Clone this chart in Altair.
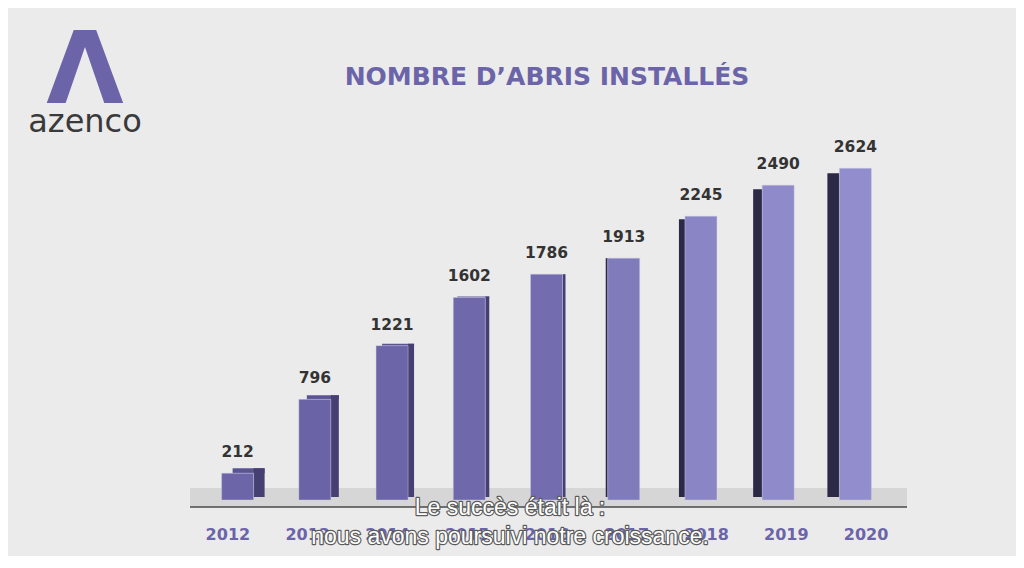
import altair as alt
import pandas as pd

# ---- data ----
years = ["2012", "2013", "2014", "2015", "2016", "2017", "2018", "2019", "2020"]
values = [212, 796, 1221, 1602, 1786, 1913, 2245, 2490, 2624]
title_text = "NOMBRE D\u2019ABRIS INSTALLÉS"
brand_text = "azenco"
logo_glyph = "\u039b"
subtitle_lines = ["Le succès était là :", "nous avons poursuivi notre croissance."]

# ---- styles ----
W, H = 695, 354
front_colors = ["#6c66a8", "#6a64a6", "#6c66a8", "#6f69ab", "#736db0",
                "#807bbb", "#8a85c4", "#8f8aca", "#928dcc"]
# (side width px, side on right?, vertical shift of side top px)
side_style = [(11, True, -5), (8, True, -4), (6, True, -2), (4, True, -1), (3, True, 0),
              (2, False, 0), (6, False, 3), (9, False, 4), (12, False, 5)]
BAR_W = 32

df = pd.DataFrame({"year": years, "value": values})

xs = alt.X("year:O", scale=alt.Scale(domain=years, paddingInner=0, paddingOuter=0), axis=None)
ys = alt.Y("value:Q", scale=alt.Scale(domain=[0, 2800], nice=False), axis=None)
base = alt.Chart(df)

one = pd.DataFrame({"k": [0]})

floor = alt.Chart(one).mark_rect(color="#d6d6d6").encode(
    x=alt.value(-9), x2=alt.value(W + 13), y=alt.value(H - 12), y2=alt.value(H + 7)
)
floor_line = alt.Chart(one).mark_rule(color="#4a4a4a", strokeWidth=1.5).encode(
    x=alt.value(-9), x2=alt.value(W + 13), y=alt.value(H + 7)
)

layers = [floor, floor_line]

for i, yr in enumerate(years):
    w, right, shift = side_style[i]
    sign = 1 if right else -1
    sub = base.transform_filter(alt.datum.year == yr)
    if shift < 0:
        top = sub.mark_bar(width=BAR_W, xOffset=sign * w, yOffset=shift, color="#5a5495").encode(
            x=xs, y=ys, y2=alt.Y2("value:Q")
        )
        layers.append(top)
    side = sub.mark_bar(
        width=w, xOffset=sign * (BAR_W / 2 + w / 2), yOffset=shift, y2Offset=-3,
        color="#463f72" if right else "#2b2945",
    ).encode(x=xs, y=ys, y2=alt.datum(0))
    layers.append(side)

front = base.mark_bar(width=BAR_W, stroke="#cfcce6", strokeWidth=0.6, strokeOpacity=0.7).encode(
    x=xs, y=ys, y2=alt.datum(0),
    color=alt.Color("year:N", scale=alt.Scale(domain=years, range=front_colors), legend=None),
)
layers.append(front)

labels = base.mark_text(font="DejaVu Sans", fontWeight="bold", fontSize=15.5, color="#333333",
                        baseline="alphabetic", dy=-16).encode(x=xs, y=ys, text="value:Q")
layers.append(labels)

year_labels = base.mark_text(font="DejaVu Sans", fontWeight="bold", fontSize=16, color="#6b64a8",
                             baseline="alphabetic").encode(
    x=alt.X("year:O", scale=alt.Scale(domain=years, range=[-11, 707], paddingInner=0, paddingOuter=0),
            axis=None),
    y=alt.value(H + 40),
    text="year:N",
)

title = alt.Chart(pd.DataFrame({"t": [title_text]})).mark_text(
    font="DejaVu Sans", fontWeight="bold", fontSize=25, color="#6b64a8", baseline="alphabetic"
).encode(x=alt.value(348), y=alt.value(-61), text="t:N")

logo = alt.Chart(pd.DataFrame({"t": [logo_glyph]})).mark_text(
    font="DejaVu Sans", fontWeight="bold", fontSize=100, color="#6b64a8", baseline="alphabetic"
).encode(x=alt.value(-114), y=alt.value(-43), text="t:N")

brand = alt.Chart(pd.DataFrame({"t": [brand_text]})).mark_text(
    font="DejaVu Sans", fontSize=32, color="#3a3a3a", baseline="alphabetic"
).encode(x=alt.value(-114), y=alt.value(-14), text="t:N")

sub_layers = []
for line, ypos in zip(subtitle_lines, [369, 398]):
    d = alt.Chart(pd.DataFrame({"t": [line]}))
    halo = d.mark_text(font="Liberation Sans", fontSize=23, color="#5a5a5a", stroke="#5a5a5a",
                       strokeWidth=2.4, baseline="alphabetic", strokeJoin="round").encode(
        x=alt.value(311), y=alt.value(ypos), text="t:N")
    face = d.mark_text(font="Liberation Sans", fontSize=23, color="#ffffff",
                       baseline="alphabetic").encode(
        x=alt.value(311), y=alt.value(ypos), text="t:N")
    sub_layers += [halo, face]

main = alt.layer(*layers)
chart = alt.layer(main, year_labels, title, logo, brand, *sub_layers).resolve_scale(
    x="independent", y="independent"
).properties(
    width=W, height=H,
    padding={"left": 191, "top": 138, "right": 122, "bottom": 56},
    autosize=alt.AutoSizeParams(type="none"),
    background="#ebebeb",
).configure_view(stroke=None)

chart.save("out.html", embed_options={"renderer": "svg", "actions": False})
